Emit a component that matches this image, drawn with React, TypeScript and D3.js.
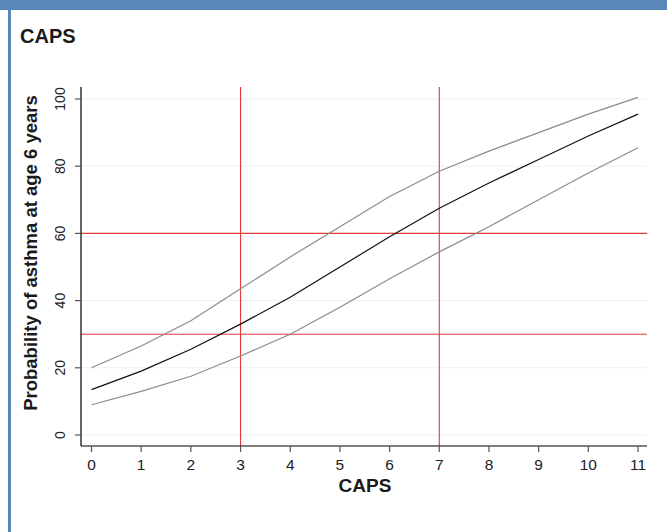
import React from "react";
import * as d3 from "d3";

// CAPS score vs predicted probability of asthma (with CI band)
const caps = [0, 1, 2, 3, 4, 5, 6, 7, 8, 9, 10, 11];
const predicted = [13.5, 19, 25.5, 33, 41, 50, 59, 67.5, 75, 82, 89, 95.5];
const upperCI = [20, 26.5, 34, 43.5, 53, 62, 71, 78.5, 84.5, 90, 95.5, 100.5];
const lowerCI = [9, 13, 17.5, 23.5, 30, 38, 46.5, 54.5, 62, 70, 78, 85.5];
const cutoffX = [3, 7];
const cutoffY = [30, 60];
const yTicks = [0, 20, 40, 60, 80, 100];

const W = 667;
const H = 532;
const axisLeftX = 81;
const axisBottomY = 446;
const plotTop = 87;
const plotRight = 647;

const App = () => {
  const x = d3.scaleLinear().domain([0, 11]).range([91.5, 638]);
  const y = d3.scaleLinear().domain([0, 100]).range([435, 99]);

  const line = d3
    .line<number>()
    .x((_, i) => x(caps[i]))
    .y((d) => y(d));

  const font = "'Liberation Sans', Arial, sans-serif";

  return (
    <div style={{ position: "absolute", left: 0, top: 0 }}>
      <svg width={W} height={H} style={{ display: "block", fontFamily: font }}>
        <rect width={W} height={H} fill="#fff" />
        {/* frame */}
        <rect x={0} y={0} width={W} height={10} fill="#5887b9" />
        <rect x={8} y={10} width={3} height={H - 10} fill="#5887b9" />

        <text x={20} y={43} fontSize={20} fontWeight="bold" fill="#1a1a1a">CAPS</text>

        {/* faint gridlines */}
        {yTicks.map((t) => (
          <line key={`g${t}`} x1={axisLeftX} x2={plotRight} y1={y(t)} y2={y(t)} stroke="#f0f0f0" />
        ))}

        {/* cutoff lines */}
        {cutoffY.map((v) => (
          <line key={`cy${v}`} x1={axisLeftX} x2={plotRight} y1={y(v)} y2={y(v)} stroke="#e33b3b" strokeWidth={1.1} />
        ))}
        {cutoffX.map((v) => (
          <line key={`cx${v}`} x1={x(v)} x2={x(v)} y1={plotTop} y2={axisBottomY} stroke="#e33b3b" strokeWidth={1.1} />
        ))}

        {/* curves */}
        <path d={line(upperCI) || ""} fill="none" stroke="#8c8c8c" strokeWidth={1.2} />
        <path d={line(lowerCI) || ""} fill="none" stroke="#8c8c8c" strokeWidth={1.2} />
        <path d={line(predicted) || ""} fill="none" stroke="#111" strokeWidth={1.2} />

        {/* axes */}
        <line x1={axisLeftX} x2={axisLeftX} y1={plotTop} y2={axisBottomY} stroke="#000" strokeWidth={1.2} />
        <line x1={axisLeftX} x2={plotRight} y1={axisBottomY} y2={axisBottomY} stroke="#000" strokeWidth={1.2} />

        {yTicks.map((t) => (
          <g key={`yt${t}`}>
            <line x1={axisLeftX - 6} x2={axisLeftX} y1={y(t)} y2={y(t)} stroke="#555" strokeWidth={1.2} />
            <text
              transform={`translate(65 ${y(t)}) rotate(-90)`}
              textAnchor="middle"
              fontSize={14}
              fill="#222"
            >
              {t}
            </text>
          </g>
        ))}

        {caps.map((c) => (
          <g key={`xt${c}`}>
            <line x1={x(c)} x2={x(c)} y1={axisBottomY} y2={axisBottomY + 6} stroke="#555" strokeWidth={1.2} />
            <text x={x(c)} y={470} textAnchor="middle" fontSize={15.5} fill="#222">
              {c}
            </text>
          </g>
        ))}

        <text x={365} y={492} textAnchor="middle" fontSize={19} fontWeight="bold" fill="#1a1a1a">CAPS</text>
        <text
          transform={`translate(37 253) rotate(-90)`}
          textAnchor="middle"
          fontSize={18.5}
          fontWeight="bold"
          fill="#1a1a1a"
        >
          Probability of asthma at age 6 years
        </text>
      </svg>
    </div>
  );
};

export default App;
